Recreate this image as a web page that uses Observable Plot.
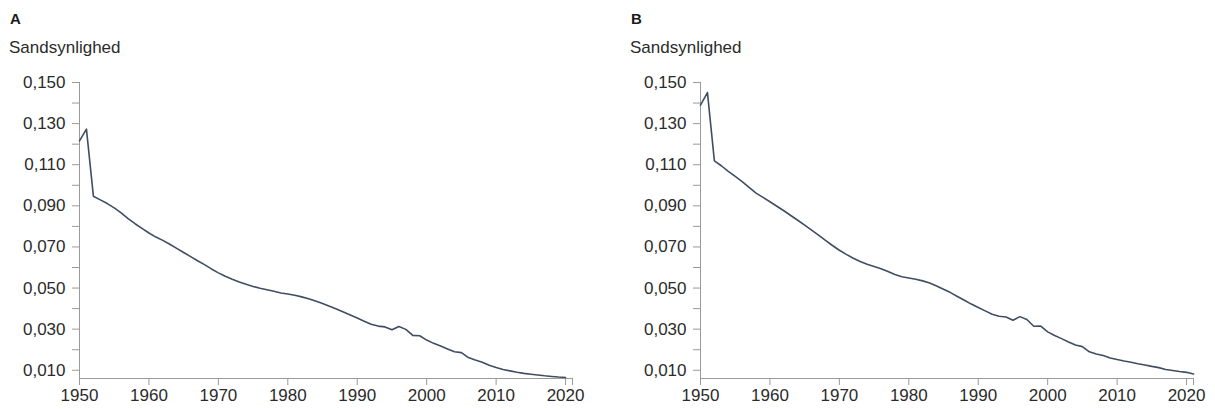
<!DOCTYPE html>
<html>
<head>
<meta charset="utf-8">
<script src="https://cdn.jsdelivr.net/npm/d3@7"></script>
<script src="https://cdn.jsdelivr.net/npm/@observablehq/plot@0.6"></script>
<style>
  html, body { margin: 0; padding: 0; background: #fff; }
  body { width: 1215px; height: 409px; position: relative; overflow: hidden;
         font-family: "Liberation Sans", Arial, sans-serif; color: #2b2b2b; }
  .panel { position: absolute; top: 0; width: 607px; height: 409px; }
  .letter { position: absolute; left: 10px; top: 11px; font-size: 15px; font-weight: bold; line-height: 1; color: #1a1a1a; }
  .ylabel { position: absolute; left: 9px; top: 38.6px; font-size: 17px; line-height: 1; color: #2b2b2b; }
  .chart { position: absolute; left: 0; top: 62px; }
</style>
</head>
<body>
<div class="panel" id="pA" style="left:0px"><div class="letter">A</div><div class="ylabel">Sandsynlighed</div><div class="chart"></div></div>
<div class="panel" id="pB" style="left:621px"><div class="letter">B</div><div class="ylabel">Sandsynlighed</div><div class="chart"></div></div>
<script>
// ---- data ----
const yearsA = d3.range(1950, 2021); // 1950..2020
const valuesA = [
  0.1216, 0.1273, 0.0947, 0.0929, 0.0911, 0.0890, 0.0866, 0.0838, 0.0813, 0.0790,
  0.0768, 0.0748, 0.0732, 0.0713, 0.0693, 0.0673, 0.0653, 0.0633, 0.0614, 0.0593,
  0.0574, 0.0557, 0.0543, 0.0530, 0.0518, 0.0508, 0.0499, 0.0492, 0.0484, 0.0476,
  0.0471, 0.0465, 0.0457, 0.0448, 0.0437, 0.0425, 0.0412, 0.0398, 0.0384, 0.0369,
  0.0354, 0.0339, 0.0324, 0.0315, 0.0311, 0.0297, 0.0313, 0.0299, 0.0270, 0.0268,
  0.0247, 0.0231, 0.0218, 0.0204, 0.0190, 0.0186, 0.0162, 0.0150, 0.0139, 0.0125,
  0.0114, 0.0104, 0.0097, 0.0090, 0.0085, 0.0081, 0.0077, 0.0073, 0.0070, 0.0067,
  0.0065
];
const yearsB = d3.range(1950, 2022); // 1950..2021
const valuesB = [
  0.1390, 0.1451, 0.1119, 0.1095, 0.1068, 0.1043, 0.1018, 0.0990, 0.0962, 0.0941,
  0.0920, 0.0898, 0.0876, 0.0853, 0.0830, 0.0806, 0.0782, 0.0757, 0.0732, 0.0707,
  0.0684, 0.0664, 0.0645, 0.0629, 0.0616, 0.0605, 0.0594, 0.0580, 0.0566, 0.0555,
  0.0549, 0.0543, 0.0535, 0.0525, 0.0510, 0.0494, 0.0478, 0.0459, 0.0441, 0.0422,
  0.0405, 0.0389, 0.0373, 0.0363, 0.0359, 0.0343, 0.0361, 0.0347, 0.0314, 0.0315,
  0.0287, 0.0269, 0.0254, 0.0238, 0.0223, 0.0215, 0.0190, 0.0179, 0.0172, 0.0160,
  0.0152, 0.0145, 0.0139, 0.0132, 0.0126, 0.0119, 0.0113, 0.0104, 0.0099, 0.0094,
  0.0090, 0.0082
];
const xTicks = [1950, 1960, 1970, 1980, 1990, 2000, 2010, 2020];
const yTicks = [0.010, 0.020, 0.030, 0.040, 0.050, 0.060, 0.070, 0.080, 0.090, 0.100, 0.110, 0.120, 0.130, 0.140, 0.150];
const yLabelTicks = [0.010, 0.030, 0.050, 0.070, 0.090, 0.110, 0.130, 0.150];
const xDomain = [1950, 2021];
const yDomain = [0.006, 0.150];

const axisColor = "#9a9a9a";
const lineColor = "#3f4e62";
const fmtY = d => yLabelTicks.some(t => Math.abs(t - d) < 1e-9) ? d.toFixed(3).replace(".", ",") : "";

function makeChart(years, values) {
  const data = years.map((y, i) => ({year: y, value: values[i]}));
  return Plot.plot({
    width: 607,
    height: 346,
    marginLeft: 79,
    marginRight: 35,
    marginTop: 20,
    marginBottom: 30,
    style: {fontFamily: "'Liberation Sans', Arial, sans-serif", fontSize: "17px", color: "#2b2b2b", background: "transparent", overflow: "visible"},
    x: {domain: xDomain, axis: null},
    y: {domain: yDomain, axis: null},
    marks: [
      Plot.axisY({ticks: yTicks, tickFormat: fmtY, tickSize: 7, tickPadding: 7, stroke: axisColor, fill: "#2b2b2b", label: null}),
      Plot.axisX({ticks: xTicks, tickFormat: d => String(d), tickSize: 7, tickPadding: 3, stroke: axisColor, fill: "#2b2b2b", label: null}),
      Plot.axisX({ticks: [2021], tickFormat: () => "", tickSize: 7, stroke: axisColor, label: null}),
      Plot.ruleX([1950], {stroke: axisColor}),
      Plot.ruleY([0.006], {stroke: axisColor}),
      Plot.line(data, {x: "year", y: "value", stroke: lineColor, strokeWidth: 1.6, strokeLinejoin: "round"})
    ]
  });
}

document.querySelector("#pA .chart").appendChild(makeChart(yearsA, valuesA));
document.querySelector("#pB .chart").appendChild(makeChart(yearsB, valuesB));
</script>
</body>
</html>
